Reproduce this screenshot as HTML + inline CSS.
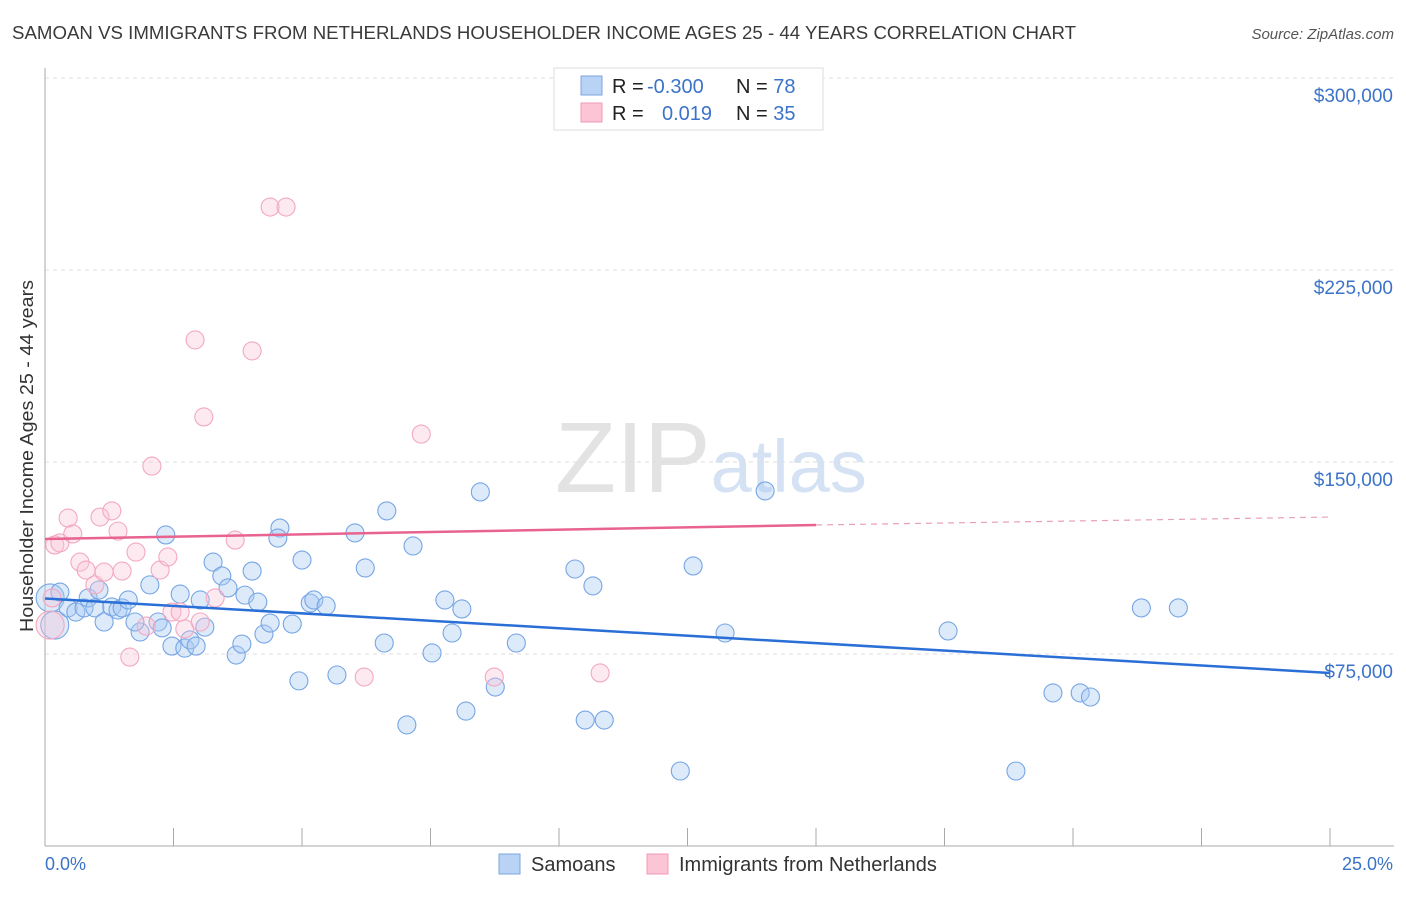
<!DOCTYPE html>
<html><head><meta charset="utf-8"><style>
body{margin:0;background:#fff;font-family:"Liberation Sans",sans-serif;}
svg text{font-family:"Liberation Sans",sans-serif;}
</style></head><body>
<svg id="c" width="1406" height="892" xmlns="http://www.w3.org/2000/svg">
<text x="12" y="39" font-size="18" fill="#3a3a3a" textLength="1064" lengthAdjust="spacingAndGlyphs">SAMOAN VS IMMIGRANTS FROM NETHERLANDS HOUSEHOLDER INCOME AGES 25 - 44 YEARS CORRELATION CHART</text>
<text x="1394" y="39" font-size="15" fill="#555" text-anchor="end" font-style="italic">Source: ZipAtlas.com</text>
<text x="555" y="492" font-size="100" fill="#e3e3e3" font-family="Liberation Serif"><tspan>ZIP</tspan><tspan fill="#d4e2f4" font-family="Liberation Sans" font-size="74">atlas</tspan></text>
<g id="grid"></g>
<g id="axes"></g>
<g id="pts"></g>
<g id="trend"></g>
<text transform="translate(33,456) rotate(-90)" font-size="18" fill="#333" text-anchor="middle" textLength="352" lengthAdjust="spacingAndGlyphs">Householder Income Ages 25 - 44 years</text>
<text x="45" y="870" font-size="18" fill="#3b73c8">0.0%</text>
<text x="1393" y="870" font-size="18" fill="#3b73c8" text-anchor="end">25.0%</text>
<g>
<rect x="554" y="68" width="269" height="62" fill="#fff" stroke="#ddd"/>
<rect x="581" y="76" width="21" height="19" fill="#b8d3f5" stroke="#7ea6e0"/>
<rect x="581" y="103" width="21" height="19" fill="#fcc5d6" stroke="#f09ab5"/>
<text x="612" y="93" font-size="20" fill="#222">R = <tspan x="647" fill="#3b73c8">-0.300</tspan><tspan x="736">N = </tspan><tspan fill="#3b73c8">78</tspan></text>
<text x="612" y="120" font-size="20" fill="#222">R = <tspan x="662" fill="#3b73c8">0.019</tspan><tspan x="736">N = </tspan><tspan fill="#3b73c8">35</tspan></text>
</g>
<g>
<rect x="499" y="854" width="21" height="20" fill="#b8d3f5" stroke="#7ea6e0"/>
<text x="531" y="871" font-size="20" fill="#333">Samoans</text>
<rect x="647" y="854" width="21" height="20" fill="#fcc5d6" stroke="#f09ab5"/>
<text x="679" y="871" font-size="20" fill="#333">Immigrants from Netherlands</text>
</g>
</svg>
<script>
const yTicks=[75000,150000,225000,300000];
const yTickLabels=["$75,000","$150,000","$225,000","$300,000"];
const xTicks=[0,2.5,5,7.5,10,12.5,15,17.5,20,22.5,25];
const blueX=[0.10,0.19,0.29,0.45,0.60,0.76,0.84,1.05,0.97,1.15,1.30,1.42,1.50,1.62,1.85,1.75,2.04,2.20,2.28,2.35,2.47,2.63,2.72,2.82,2.94,3.02,3.11,3.27,3.44,3.56,3.72,3.83,3.89,4.03,4.14,4.26,4.38,4.57,4.53,4.81,4.94,5.00,5.16,5.23,5.47,5.68,6.03,6.23,6.60,6.65,7.04,7.16,7.53,7.78,7.92,8.11,8.19,8.47,8.76,9.17,10.31,10.51,10.66,10.88,12.36,12.61,13.23,14.01,17.57,18.89,19.61,20.14,20.34,21.33,22.05];
const blueY=[96900,86300,99200,93000,91400,93000,96900,100000,93000,87500,93400,92200,93000,96100,83600,87500,102000,87500,85200,121500,78100,98400,77300,80500,78100,96100,85500,110900,105500,100800,74600,78900,98000,107400,95300,82800,87100,124200,120300,86700,64500,111700,94900,96100,93800,66800,122300,108600,79300,130900,47300,117200,75400,96100,83200,92600,52700,138300,62100,79300,108200,49200,101600,49200,29300,109400,83200,138700,84000,29300,59800,59800,58200,93000,93000];
const pinkX=[0.10,0.14,0.19,0.29,0.45,0.54,0.68,0.80,0.97,1.07,1.15,1.30,1.42,1.50,1.65,1.77,1.97,2.08,2.24,2.39,2.47,2.63,2.72,2.92,3.02,3.09,3.31,3.70,4.03,4.38,4.69,6.21,7.32,8.74,10.80];
const pinkY=[86300,96900,117600,118400,128100,121900,110900,107800,102000,128500,107000,130900,123000,107400,73800,114800,85900,148400,107800,112900,91400,91400,84800,197700,87500,167600,96900,119500,193400,249600,249600,66000,160900,66000,67600];
const blueTrend=[96700,67600];
const pinkTrend=[119900,125400,128500];
const NS="http://www.w3.org/2000/svg";
const X0=45,X1=1330,YB=846,PPV=192/75000;
const xs=v=>X0+(v/25)*(X1-X0);
const ys=v=>YB-v*PPV;
function mk(t,a,p){const e=document.createElementNS(NS,t);for(const k in a)e.setAttribute(k,a[k]);document.getElementById(p).appendChild(e);return e;}
yTicks.forEach((t,i)=>{
 const l=mk('line',{x1:45,x2:1394,y1:ys(t),y2:ys(t),stroke:'#ddd','stroke-dasharray':'4,4'},'grid');
 
 
 const tx=mk('text',{x:1393,y:ys(t)+24,'font-size':19,fill:'#3b73c8','text-anchor':'end'},'grid');
 tx.textContent=yTickLabels[i];
 
 
});
const ax=mk('line',{x1:45,x2:45,y1:68,y2:846,stroke:'#aaa'},'axes');


const bx=mk('line',{x1:45,x2:1394,y1:846,y2:846,stroke:'#aaa'},'axes');


xTicks.forEach(t=>{
 const l=mk('line',{x1:xs(t),x2:xs(t),y1:828,y2:846,stroke:'#aaa'},'axes');
 
 
});
blueX.forEach((v,i)=>{
 const c=mk('circle',{cx:xs(v),cy:ys(blueY[i]),r:i<2?14:9,fill:'rgba(170,202,242,0.4)',stroke:'#76a6e4','stroke-width':1.1},'pts');
 
 
});
pinkX.forEach((v,i)=>{
 const c=mk('circle',{cx:xs(v),cy:ys(pinkY[i]),r:i<1?14:9,fill:'rgba(250,195,214,0.35)',stroke:'#f3a8c0','stroke-width':1.1},'pts');
 
 
});
const bl=mk('line',{x1:xs(0),y1:ys(blueTrend[0]),x2:xs(25),y2:ys(blueTrend[1]),stroke:'#2a6fd6','stroke-width':2.5},'trend');


const pl=mk('line',{x1:xs(0),y1:ys(pinkTrend[0]),x2:xs(15),y2:ys(pinkTrend[1]),stroke:'#e8638f','stroke-width':2.5},'trend');


const pd=mk('line',{x1:xs(15),y1:ys(pinkTrend[1]),x2:xs(25),y2:ys(pinkTrend[2]),stroke:'#e8a0b8','stroke-width':1.2,'stroke-dasharray':'6,5'},'trend');


</script>
</body></html>
